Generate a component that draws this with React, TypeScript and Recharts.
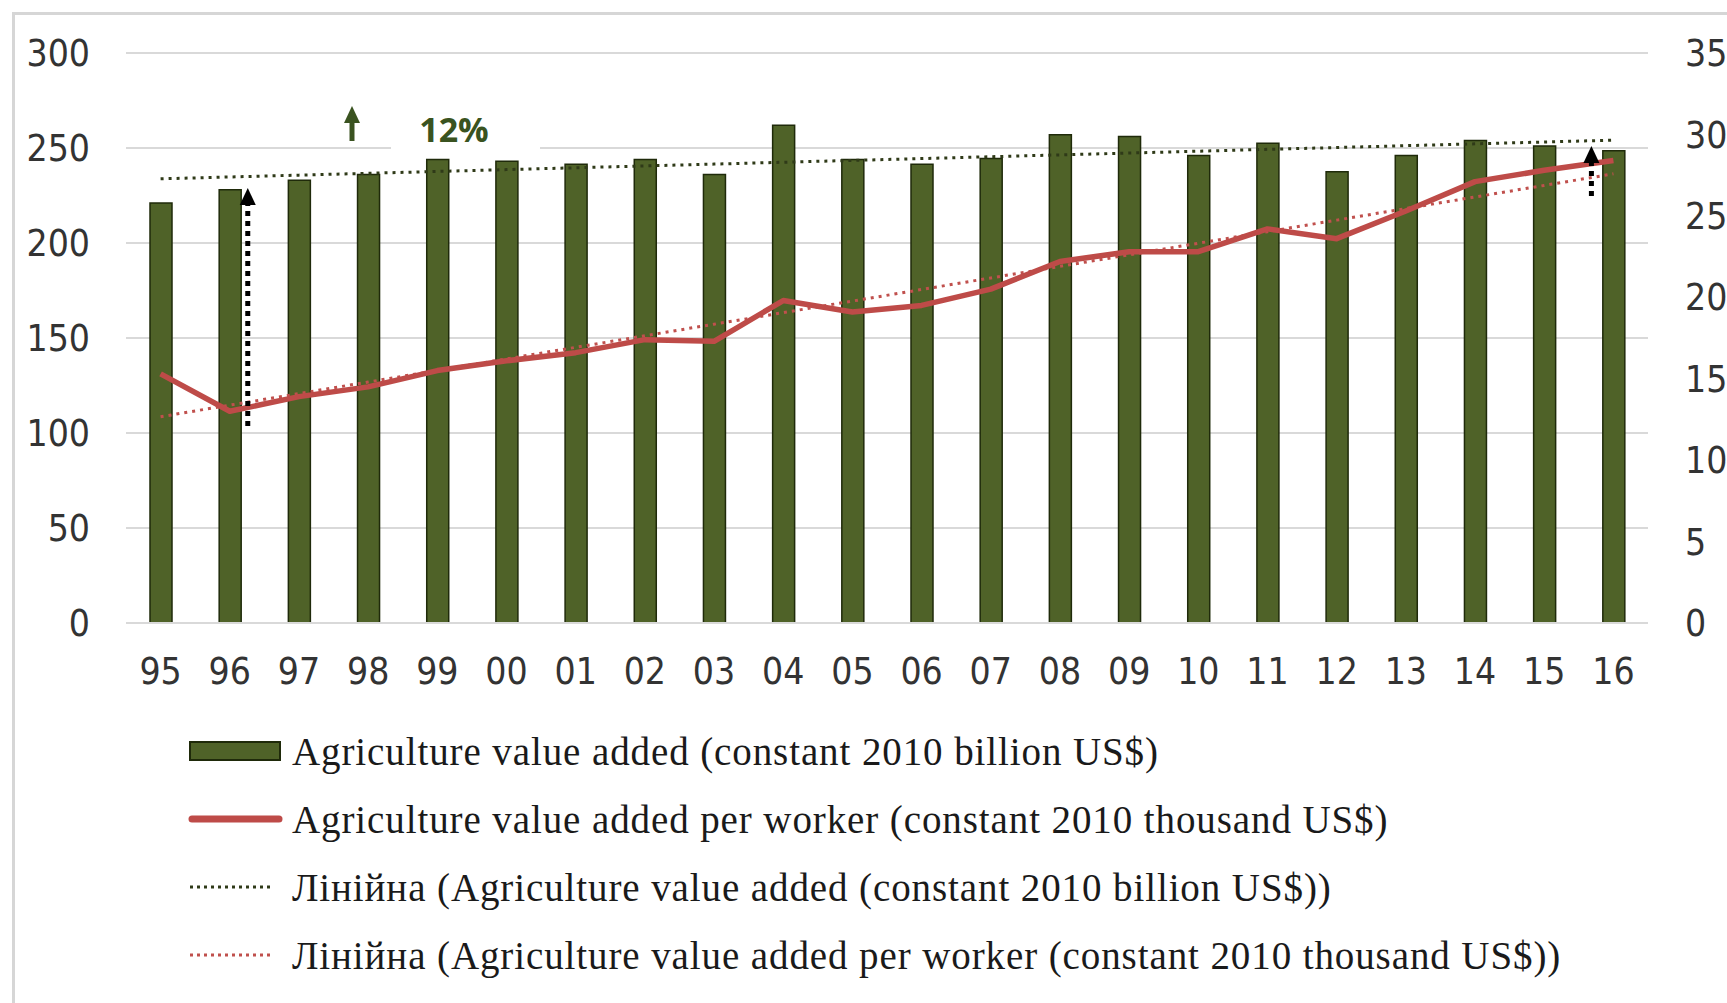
import { ComposedChart, Bar, Line, XAxis, YAxis, CartesianGrid } from 'recharts'

const years = ['95', '96', '97', '98', '99', '00', '01', '02', '03', '04', '05', '06', '07', '08', '09', '10', '11', '12', '13', '14', '15', '16']

// Agriculture value added, constant 2010 billion US$
const valueAdded = [221, 228, 233, 236, 244, 243, 241.5, 244, 236, 262, 244, 241.5, 244.5, 257, 256, 246, 252.5, 237.5, 246, 254, 251, 248.5]

// Agriculture value added per worker, constant 2010 thousand US$
const perWorker = [15.3, 13.0, 13.9, 14.5, 15.5, 16.1, 16.6, 17.4, 17.3, 19.8, 19.1, 19.5, 20.5, 22.2, 22.8, 22.8, 24.2, 23.6, 25.3, 27.1, 27.8, 28.4]

const leftTicks = [0, 50, 100, 150, 200, 250, 300]
const rightTicks = [0, 5, 10, 15, 20, 25, 30, 35]

const legendLabels = [
    'Agriculture value added (constant 2010 billion US$)',
    'Agriculture value added per worker (constant 2010 thousand US$)',
    'Лінійна (Agriculture value added (constant 2010 billion US$))',
    'Лінійна (Agriculture value added per worker (constant 2010 thousand US$))',
]

// least squares trendline, like Excel's "Linear" trendline
function linearTrend(values: number[]) {
    const n = values.length
    const xs = values.map((_, i) => i + 1)
    const mx = xs.reduce((a, b) => a + b, 0) / n
    const my = values.reduce((a, b) => a + b, 0) / n
    let num = 0
    let den = 0
    xs.forEach((x, i) => {
        num += (x - mx) * (values[i] - my)
        den += (x - mx) * (x - mx)
    })
    const slope = num / den
    return xs.map(x => my + slope * (x - mx))
}

const trendVA = linearTrend(valueAdded)
const trendPW = linearTrend(perWorker)

const data = years.map((year, i) => ({
    year,
    va: valueAdded[i],
    pw: perWorker[i],
    trendVA: trendVA[i],
    trendPW: trendPW[i],
}))

const GREEN = '#4F6228'
const RED = '#BE4B48'
const TICK_FONT = '"Liberation Sans Narrow", "DejaVu Sans Condensed", "Liberation Sans", sans-serif'

const W = 1727
const H = 720
const PLOT_LEFT = 126
const PLOT_RIGHT = 1648
const PLOT_TOP = 53
const PLOT_BOTTOM = 623

const band = (PLOT_RIGHT - PLOT_LEFT) / years.length
const xOf = (i: number) => PLOT_LEFT + band * (i + 0.5)

function Arrow({ x, y1, y2, color, dotted }: { x: number; y1: number; y2: number; color: string; dotted?: boolean }) {
    const head = 17
    return (
        <g>
            <line
                x1={x}
                x2={x}
                y1={y1}
                y2={y2 + head - 2}
                stroke={color}
                strokeWidth={5}
                strokeDasharray={dotted ? '5 5' : undefined}
            />
            <polygon points={`${x - 8},${y2 + head} ${x + 8},${y2 + head} ${x},${y2}`} fill={color} />
        </g>
    )
}

function Annotations() {
    return (
        <svg width={W} height={H} style={{ position: 'absolute', left: 0, top: 0, pointerEvents: 'none' }}>
            {/* white box behind the 12% label breaks the gridline */}
            <rect x={391} y={98} width={149} height={58} fill="#ffffff" />
            <Arrow x={352} y1={141} y2={106} color="#3A5320" />
            <text x={454} y={142} textAnchor="middle" fontFamily='"Open Sans", "Liberation Sans", sans-serif' fontWeight={700} fontSize={34} fill="#3A5320">
                12%
            </text>
            <Arrow x={xOf(1) + 18} y1={426} y2={188} color="#000000" dotted />
            <Arrow x={xOf(21) - 22} y1={196} y2={146} color="#000000" dotted />
        </svg>
    )
}

function LegendIcon({ kind }: { kind: number }) {
    if (kind === 0) {
        return (
            <svg width={95} height={24}>
                <rect x={2} y={3} width={90} height={18} fill={GREEN} stroke="#1f2a0a" strokeWidth={2} />
            </svg>
        )
    }
    if (kind === 1) {
        return (
            <svg width={95} height={24}>
                <line x1={4} x2={91} y1={12} y2={12} stroke={RED} strokeWidth={7} strokeLinecap="round" />
            </svg>
        )
    }
    return (
        <svg width={95} height={24}>
            <line
                x1={2}
                x2={84}
                y1={12}
                y2={12}
                stroke={kind === 2 ? '#2f3a18' : '#C0504D'}
                strokeWidth={3}
                strokeDasharray="3 4"
            />
        </svg>
    )
}

export default function App() {
    return (
        <div style={{ position: 'absolute', left: 0, top: 0, width: W, height: 1003, overflow: 'hidden', background: '#fff' }}>
            <div
                style={{
                    position: 'absolute',
                    left: 12,
                    top: 12,
                    width: 1900,
                    height: 1200,
                    border: '3px solid #d6d6d6',
                }}
            />
            <div style={{ position: 'absolute', left: 0, top: 0 }}>
                <ComposedChart
                    width={W}
                    height={H}
                    data={data}
                    margin={{ top: PLOT_TOP, right: W - PLOT_RIGHT - 79, bottom: H - PLOT_BOTTOM - 60, left: PLOT_LEFT - 100 }}
                    barSize={22}
                >
                    <CartesianGrid yAxisId="left" vertical={false} stroke="#d9d9d9" strokeWidth={2} />
                    <XAxis
                        dataKey="year"
                        height={60}
                        axisLine={{ stroke: '#d9d9d9', strokeWidth: 2 }}
                        tickLine={false}
                        tickSize={0}
                        tickMargin={35}
                        interval={0}
                        tick={{ fontSize: 37, fill: '#333', fontFamily: TICK_FONT }}
                    />
                    <YAxis
                        yAxisId="left"
                        orientation="left"
                        width={100}
                        domain={[0, 300]}
                        ticks={leftTicks}
                        axisLine={false}
                        tickLine={false}
                        tickSize={0}
                        tickMargin={36}
                        tick={{ fontSize: 37, fill: '#333', fontFamily: TICK_FONT }}
                    />
                    <YAxis
                        yAxisId="right"
                        orientation="right"
                        width={79}
                        domain={[0, 35]}
                        ticks={rightTicks}
                        axisLine={false}
                        tickLine={false}
                        tickSize={0}
                        tickMargin={37}
                        tick={{ fontSize: 37, fill: '#333', fontFamily: TICK_FONT, textAnchor: 'start' }}
                    />
                    <Bar yAxisId="left" dataKey="va" fill={GREEN} stroke="#1f2a0a" strokeWidth={1.5} isAnimationActive={false} />
                    <Line
                        yAxisId="left"
                        dataKey="trendVA"
                        stroke="#2f3a18"
                        strokeWidth={3}
                        strokeDasharray="3 5"
                        dot={false}
                        activeDot={false}
                        isAnimationActive={false}
                    />
                    <Line
                        yAxisId="right"
                        dataKey="trendPW"
                        stroke="#C0504D"
                        strokeWidth={3}
                        strokeDasharray="3 5"
                        dot={false}
                        activeDot={false}
                        isAnimationActive={false}
                    />
                    <Line
                        yAxisId="right"
                        dataKey="pw"
                        type="linear"
                        stroke={RED}
                        strokeWidth={5.5}
                        strokeLinejoin="round"
                        dot={false}
                        activeDot={false}
                        isAnimationActive={false}
                    />
                </ComposedChart>
            </div>
            <Annotations />
            <div style={{ position: 'absolute', left: 188, top: 717 }}>
                {legendLabels.map((label, i) => (
                    <div key={label} style={{ display: 'flex', alignItems: 'center', height: 68 }}>
                        <div style={{ width: 104, display: 'flex', alignItems: 'center' }}>
                            <LegendIcon kind={i} />
                        </div>
                        <span
                            style={{
                                fontFamily: '"Liberation Serif", "DejaVu Serif", serif',
                                fontSize: 39,
                                letterSpacing: 0.9,
                                color: '#1a1a1a',
                                whiteSpace: 'nowrap',
                            }}
                        >
                            {label}
                        </span>
                    </div>
                ))}
            </div>
        </div>
    )
}
